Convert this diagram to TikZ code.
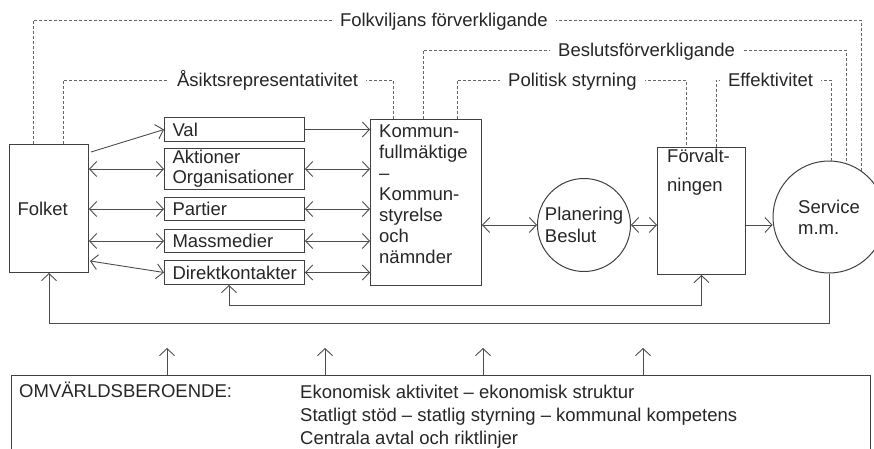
\documentclass[tikz,border=0pt]{standalone}
\usepackage{fontspec}
\setmainfont{Liberation Sans}
\usetikzlibrary{arrows.meta,positioning,calc}
\tikzset{
    >={Straight Barb[length=7pt,width=15pt]},
    block/.style={
        draw=black!75,
        line width=1pt,
        rectangle,
        anchor=north west,
        align=left,
        inner xsep=8pt,
        inner ysep=0pt
    },
    circ/.style={
        draw=black!75,
        line width=1pt,
        circle,
        inner sep=0pt,
        align=left
    },
    link/.style={
        draw=black!70,
        line width=0.9pt
    },
    dotted_line/.style={
        draw=black!60,
        line width=0.8pt,
        dash pattern=on 3pt off 2pt
    },
    dotted_label/.style={
        fill=white,
        text=black!85,
        inner xsep=8pt,
        inner ysep=0pt,
        text height=13.5pt,
        text depth=4pt,
        yshift=-2pt
    },
    inside_text/.style={
        anchor=north west,
        align=left,
        inner sep=0pt
    }
}

\begin{document}
\begin{tikzpicture}[x=1pt, y=-1pt, font=\fontsize{18.5}{21}\selectfont, text=black!85]
    \useasboundingbox (0,0) rectangle (874,449);

    % blocks
    \node[block, text width=63pt, minimum height=128pt] (folket) at (9,144) {Folket};
    \node[block, text width=124pt, minimum height=24pt] (val) at (164,117) {Val};
    \node[block, text width=124pt, minimum height=41pt] (aktioner) at (164,148) {Aktioner\\[-1pt]Organisationer};
    \node[block, text width=124pt, minimum height=23pt] (partier) at (164,197) {Partier};
    \node[block, text width=124pt, minimum height=23pt] (massmedier) at (164,229) {Massmedier};
    \node[block, text width=124pt, minimum height=24pt] (direkt) at (164,260) {Direktkontakter};
    \node[block, minimum width=111pt, minimum height=166pt,
        label={[inside_text, xshift=9pt, yshift=-6pt]north west:{Kommun-\\fullmäktige\\–\\Kommun-\\styrelse\\och\\nämnder}}] (kommun) at (370,119) {};
    \node[circ, minimum size=93pt] (plan) at (584,225) {Planering\\[1pt]Beslut};
    \node[block, minimum width=88pt, minimum height=127pt,
        label={[inside_text, xshift=10pt, yshift=-2pt]north west:{Förvalt-\\[8pt]ningen}}] (forv) at (657,147) {};
    \node[circ, minimum size=112pt] (service) at (829,217) {Service\\m.m.};
    \node[block, minimum width=859pt, minimum height=110pt,
        label={[inside_text, xshift=8pt, yshift=-7pt]north west:{OMVÄRLDSBEROENDE:}},
        label={[inside_text, xshift=289pt, yshift=-10pt]north west:{Ekonomisk aktivitet – ekonomisk struktur\\[2pt]Statligt stöd – statlig styrning – kommunal kompetens\\[2pt]Centrala avtal och riktlinjer}}] (omv) at (11,375) {};

    % arrows between the blocks
    \draw[link, ->] ($(folket.north east)+(2,8)$) -- (val.west);
    \draw[link, <->] (folket.east |- aktioner.west) -- (aktioner.west);
    \draw[link, <->] (folket.east |- partier.west) -- (partier.west);
    \draw[link, <->] (folket.east |- massmedier.west) -- (massmedier.west);
    \draw[link, <->] ($(folket.south east)+(1,-12)$) -- (direkt.west);
    \draw[link, ->] (val.east) -- (val.east -| kommun.west);
    \draw[link, <->] (aktioner.east) -- (aktioner.east -| kommun.west);
    \draw[link, <->] (partier.east) -- (partier.east -| kommun.west);
    \draw[link, <->] (massmedier.east) -- (massmedier.east -| kommun.west);
    \draw[link, <->] (direkt.east) -- (direkt.east -| kommun.west);
    \draw[link, <->] (kommun.east |- plan.west) -- (plan.west);
    \draw[link, <->] (plan.east) -- (plan.east -| forv.west);
    \draw[link, ->] (forv.east |- plan.east) -- (plan.east -| service.west);

    % feedback lines
    \draw[link, ->] (service.south) -- ++(0,50) -| (folket.south);
    \draw[link, <->] ($(direkt.south west)+(65,0)$) -- ++(0,20) -| (forv.south);

    % dependencies
    \foreach \x in {167,325,483,643}
        \draw[link, ->] (\x,0 |- omv.north) -- ++(0,-27);

    % dotted relations
    \draw[dotted_line] ($(folket.north west)+(24,0)$) -- ++(0,-124)
        -| node[dotted_label, pos=.248] {Folkviljans förverkligande} (service.55);
    \draw[dotted_line] ($(kommun.north west)+(53,0)$) -- ++(0,-69)
        -| node[dotted_label, pos=.264] {Beslutsförverkligande} (service.72);
    \draw[dotted_line] ($(folket.north west)+(54,0)$) -- ++(0,-64)
        -| node[dotted_label, pos=.31] {Åsiktsrepresentativitet} ($(kommun.north west)+(23,0)$);
    \draw[dotted_line] ($(kommun.north west)+(87,0)$) -- ++(0,-39)
        -| node[dotted_label, pos=.252] {Politisk styrning} ($(forv.north west)+(29,0)$);
    \draw[dotted_line] ($(forv.north west)+(59,0)$) -- ++(0,-67)
        -| node[dotted_label, pos=.237] {Effektivitet} (service.88);
\end{tikzpicture}
\end{document}
